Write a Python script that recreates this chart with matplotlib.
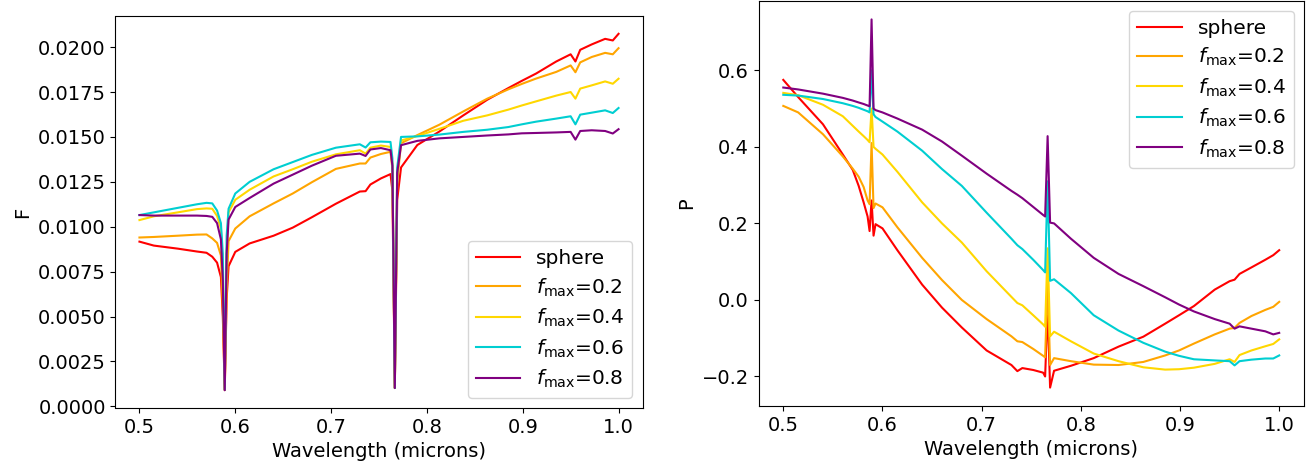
import matplotlib
matplotlib.use("Agg")
import matplotlib.pyplot as plt

# Wavelength grid (microns)
wavelength = [0.500, 0.515, 0.540, 0.560, 0.570, 0.576, 0.581, 0.585, 0.587, 0.589,
              0.591, 0.593, 0.600, 0.615, 0.640, 0.660, 0.680, 0.705, 0.730, 0.736,
              0.741, 0.752, 0.762, 0.764, 0.7665, 0.769, 0.773, 0.790, 0.813, 0.838,
              0.863, 0.885, 0.899, 0.914, 0.935, 0.950, 0.955, 0.960, 0.972, 0.986,
              0.994, 1.000]

labels = ["sphere", r"$f_{\mathrm{max}}$=0.2", r"$f_{\mathrm{max}}$=0.4",
          r"$f_{\mathrm{max}}$=0.6", r"$f_{\mathrm{max}}$=0.8"]
colors = ["red", "orange", "gold", "darkturquoise", "purple"]

# Flux F
F_sphere = [0.00917, 0.00895, 0.00878, 0.00862, 0.00855, 0.00833, 0.00800, 0.00720, 0.00500, 0.00090,
            0.00600, 0.00780, 0.00860, 0.00907, 0.00950, 0.00995, 0.01053, 0.01128, 0.01196, 0.01198,
            0.01235, 0.01269, 0.01293, 0.01200, 0.00102, 0.01150, 0.01330, 0.01455, 0.01530, 0.01620,
            0.01707, 0.01772, 0.01812, 0.01853, 0.01920, 0.01960, 0.01920, 0.01985, 0.02015, 0.02046,
            0.02037, 0.02074]
F_f02 = [0.00940, 0.00943, 0.00950, 0.00956, 0.00957, 0.00935, 0.00910, 0.00840, 0.00550, 0.00095,
         0.00650, 0.00920, 0.00990, 0.01058, 0.01130, 0.01185, 0.01248, 0.01322, 0.01352, 0.01352,
         0.01385, 0.01405, 0.01417, 0.01320, 0.00102, 0.01250, 0.01465, 0.01510, 0.01568, 0.01642,
         0.01713, 0.01765, 0.01795, 0.01825, 0.01862, 0.01898, 0.01860, 0.01915, 0.01945, 0.01968,
         0.01960, 0.01994]
F_f04 = [0.01037, 0.01058, 0.01080, 0.01098, 0.01102, 0.01100, 0.01060, 0.00990, 0.00750, 0.00092,
         0.00850, 0.01080, 0.01150, 0.01206, 0.01280, 0.01320, 0.01362, 0.01403, 0.01426, 0.01407,
         0.01440, 0.01452, 0.01444, 0.01350, 0.00102, 0.01300, 0.01480, 0.01505, 0.01545, 0.01590,
         0.01620, 0.01652, 0.01675, 0.01698, 0.01730, 0.01750, 0.01713, 0.01769, 0.01787, 0.01809,
         0.01796, 0.01824]
F_f06 = [0.01065, 0.01080, 0.01105, 0.01125, 0.01133, 0.01130, 0.01090, 0.01020, 0.00850, 0.00092,
         0.00950, 0.01100, 0.01185, 0.01250, 0.01320, 0.01360, 0.01400, 0.01440, 0.01459, 0.01441,
         0.01470, 0.01474, 0.01472, 0.01380, 0.00102, 0.01330, 0.01500, 0.01503, 0.01513, 0.01528,
         0.01540, 0.01555, 0.01570, 0.01585, 0.01602, 0.01615, 0.01570, 0.01624, 0.01635, 0.01648,
         0.01633, 0.01661]
F_f08 = [0.01065, 0.01062, 0.01062, 0.01062, 0.01060, 0.01055, 0.01020, 0.00930, 0.00700, 0.00090,
         0.00850, 0.01040, 0.01110, 0.01160, 0.01240, 0.01290, 0.01340, 0.01395, 0.01407, 0.01394,
         0.01430, 0.01438, 0.01426, 0.01340, 0.00102, 0.01300, 0.01454, 0.01478, 0.01492, 0.01500,
         0.01508, 0.01514, 0.01520, 0.01522, 0.01525, 0.01528, 0.01485, 0.01533, 0.01537, 0.01533,
         0.01519, 0.01543]

# Polarization P
P_sphere = [0.575, 0.530, 0.459, 0.380, 0.340, 0.298, 0.255, 0.218, 0.180, 0.260,
            0.168, 0.198, 0.187, 0.130, 0.040, -0.020, -0.072, -0.132, -0.170, -0.186,
            -0.178, -0.183, -0.190, -0.200, -0.020, -0.229, -0.185, -0.172, -0.152, -0.122,
            -0.096, -0.062, -0.040, -0.016, 0.027, 0.049, 0.053, 0.068, 0.085, 0.105,
            0.117, 0.130]
P_f02 = [0.507, 0.490, 0.433, 0.375, 0.343, 0.322, 0.295, 0.260, 0.250, 0.410,
         0.240, 0.252, 0.242, 0.190, 0.110, 0.052, 0.000, -0.050, -0.095, -0.108,
         -0.110, -0.128, -0.146, -0.150, 0.050, -0.170, -0.152, -0.160, -0.169, -0.170,
         -0.162, -0.145, -0.132, -0.114, -0.090, -0.075, -0.073, -0.060, -0.042, -0.026,
         -0.018, -0.005]
P_f04 = [0.541, 0.535, 0.510, 0.480, 0.455, 0.440, 0.428, 0.418, 0.412, 0.500,
         0.400, 0.395, 0.380, 0.335, 0.255, 0.200, 0.150, 0.075, 0.008, -0.008,
         -0.014, -0.040, -0.064, -0.070, 0.135, -0.095, -0.083, -0.108, -0.140, -0.160,
         -0.176, -0.182, -0.181, -0.177, -0.167, -0.155, -0.162, -0.144, -0.132, -0.121,
         -0.115, -0.103]
P_f06 = [0.536, 0.534, 0.525, 0.514, 0.507, 0.502, 0.497, 0.493, 0.490, 0.600,
         0.485, 0.478, 0.466, 0.440, 0.390, 0.342, 0.298, 0.228, 0.160, 0.143,
         0.133, 0.105, 0.078, 0.072, 0.310, 0.050, 0.054, 0.018, -0.040, -0.080,
         -0.112, -0.135, -0.146, -0.155, -0.158, -0.160, -0.171, -0.160, -0.156, -0.153,
         -0.153, -0.145]
P_f08 = [0.555, 0.550, 0.539, 0.528, 0.521, 0.516, 0.512, 0.508, 0.506, 0.733,
         0.500, 0.496, 0.490, 0.474, 0.445, 0.414, 0.377, 0.330, 0.285, 0.275,
         0.266, 0.243, 0.222, 0.218, 0.428, 0.202, 0.200, 0.160, 0.110, 0.068,
         0.036, 0.007, -0.012, -0.030, -0.050, -0.062, -0.075, -0.069, -0.075, -0.082,
         -0.090, -0.086]

F_series = [F_sphere, F_f02, F_f04, F_f06, F_f08]
P_series = [P_sphere, P_f02, P_f04, P_f06, P_f08]

plt.rcParams["font.family"] = ["DejaVu Sans"]
plt.rcParams["font.size"] = 14

fig = plt.figure(figsize=(13.11, 4.73), dpi=100)
W, H = 1311.0, 473.0
ax1 = fig.add_axes([115.5 / W, (H - 408) / H, (642.5 - 115.5) / W, (408 - 16) / H])
ax2 = fig.add_axes([758.5 / W, (H - 406) / H, (1304 - 758.5) / W, (406 - 1) / H])

for ys, c, lab in zip(F_series, colors, labels):
    ax1.plot(wavelength, ys, color=c, lw=1.5, label=lab)
for ys, c, lab in zip(P_series, colors, labels):
    ax2.plot(wavelength, ys, color=c, lw=1.5, label=lab)

ax1.set_xlabel("Wavelength (microns)", fontsize=14)
ax1.set_ylabel("F", fontsize=14)
ax2.set_xlabel("Wavelength (microns)", fontsize=14)
ax2.set_ylabel("P", fontsize=14)

for ax in (ax1, ax2):
    ax.tick_params(labelsize=14)
    ax.set_xticks([0.5, 0.6, 0.7, 0.8, 0.9, 1.0])

ax1.set_yticks([0.0, 0.0025, 0.005, 0.0075, 0.01, 0.0125, 0.015, 0.0175, 0.02])
ax1.set_yticklabels(["0.0000", "0.0025", "0.0050", "0.0075", "0.0100", "0.0125",
                     "0.0150", "0.0175", "0.0200"])
ax2.set_yticks([-0.2, 0.0, 0.2, 0.4, 0.6])

leg_kw = dict(fontsize=14.5, handlelength=2.2, labelspacing=0.4)
ax1.legend(loc="lower right", **leg_kw)
ax2.legend(loc="upper right", **leg_kw)

fig.savefig("out.png", dpi=100)
